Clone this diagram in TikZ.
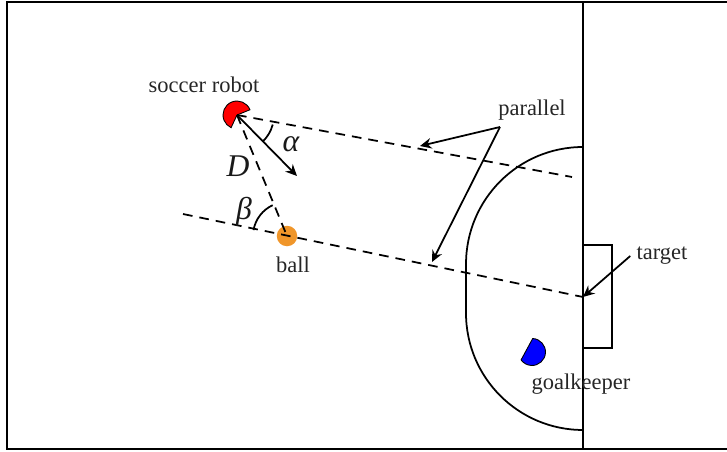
\documentclass[tikz,border=0pt]{standalone}
\usepackage{fontspec}
\setmainfont{Liberation Serif}
\usetikzlibrary{arrows.meta, positioning, calc}
\definecolor{ballorange}{HTML}{F0962A}
\tikzset{
  fieldline/.style={draw=black, line width=1.3pt},
  markline/.style={draw=black, line width=1pt},
  guideline/.style={draw=black, line width=1pt, dash pattern=on 5.5pt off 4pt},
  arr/.style={-{Stealth[length=6.5pt, width=6pt]}, draw=black, line width=1pt},
  labeltext/.style={font=\fontsize{12.8pt}{15pt}\selectfont, text=black!85, inner sep=0pt},
  mathtext/.style={font=\fontsize{18pt}{20pt}\selectfont\itshape, text=black!90, inner sep=0pt},
  ballnode/.style={circle, fill=ballorange, minimum size=0.41cm, inner sep=0pt},
}
\begin{document}
\begin{tikzpicture}[x=0.02cm, y=0.02cm]
\useasboundingbox (0,0) rectangle (727,451);

% field
\coordinate (midtop) at (583,449);
\coordinate (midbot) at (583,2);
\draw[fieldline] (727,449) -- (7,449) -- (7,2) -- (727,2);
\draw[fieldline] (midtop) -- (midbot);
\draw[markline] (583,304) arc[start angle=90, end angle=180, radius=2.34cm]
  -- (466,138) arc[start angle=180, end angle=270, radius=2.34cm];
\draw[markline] (583,206) -- (612,206) -- (612,103) -- (583,103);

% players
\coordinate (robot) at (237,336);
\coordinate (keeperA) at (532.7,112.5);
\node (ball) [ballnode] at (287,215) {};
\fill[red, draw=black, line width=0.5pt] (robot) -- ++(22:0.28cm)
  arc[start angle=22, end angle=245, radius=0.28cm] -- cycle;
\fill[blue, draw=black, line width=0.5pt] (keeperA)
  arc[start angle=87, end angle=-144, radius=0.27cm] -- cycle;

% guide lines
\coordinate (upperend) at (572,274);
\coordinate (lowerstart) at (183,237);
\coordinate (aim) at (583,154);
\coordinate (heading) at (297,275);
\draw[guideline] (robot) -- (upperend);
\draw[guideline] (lowerstart) -- (aim);
\draw[guideline] (robot) -- (ball.center);
\draw[arr] (robot) -- (heading);
\draw[markline] ($(robot)+(-15:0.74cm)$) arc[start angle=-15, end angle=-46, radius=0.74cm];
\draw[markline] ($(ball.center)+(170:0.68cm)$) arc[start angle=170, end angle=115, radius=0.68cm];

% labels
\node (robotlabel) [labeltext] at (204,366) {soccer robot};
\node (balllabel) [labeltext] at (293,186) {ball};
\node (keeperlabel) [labeltext] at (581,67) {goalkeeper};
\node (parallellabel) [labeltext] at (532,341) {parallel};
\node (targetlabel) [labeltext] at (662,195) {target};
\node (dlabel) [mathtext] at (238,285) {D};
\node (alphalabel) [mathtext] at (291,307) {α};
\node (betalabel) [mathtext] at (244,239) {β};

% pointers
\coordinate (fork) at (500,324);
\coordinate (upperhit) at (420,305);
\coordinate (lowerhit) at (432,189);
\draw[arr] (fork) -- (upperhit);
\draw[arr] (fork) -- (lowerhit);
\draw[arr] ($(targetlabel.west)+(-6,0)$) -- (aim);

\end{tikzpicture}
\end{document}
